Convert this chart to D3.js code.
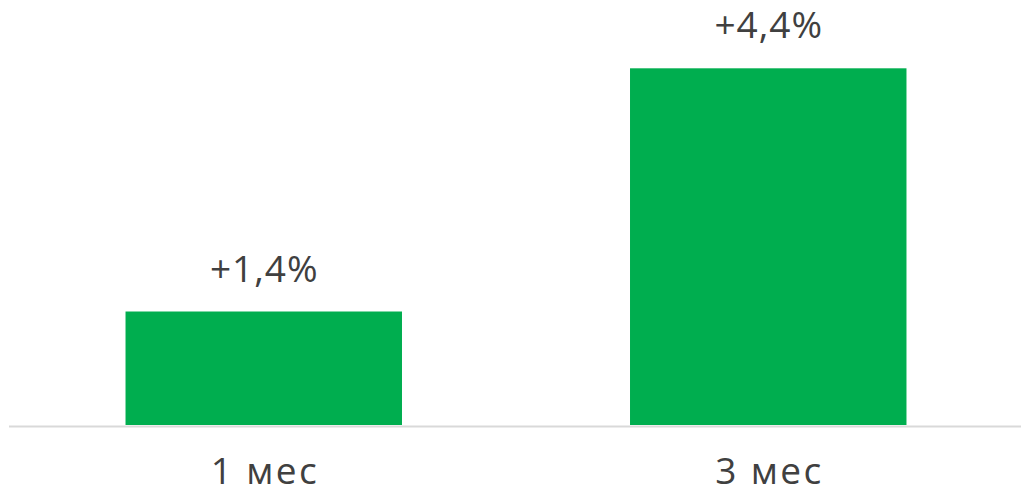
<!DOCTYPE html>
<html><head><meta charset="utf-8">
<script src="https://cdn.jsdelivr.net/npm/d3@7"></script>
<style>html,body{margin:0;padding:0;background:#fff;}svg{display:block;}</style>
</head><body>
<svg id="chart" width="1029" height="492"></svg>
<script>
const categories = ["1 мес", "3 мес"];
const values = [1.4, 4.4];
const valueLabels = ["+1,4%", "+4,4%"];

const svg = d3.select("#chart");
const baseY = 425;
const x = d3.scaleBand().domain(categories).range([11, 1021]).paddingInner(0.452).paddingOuter(0.227);
const y = d3.scaleLinear().domain([0, 4.4]).range([baseY, 68.3]);
const font = "'Open Sans', sans-serif";

svg.selectAll("rect.bar").data(values).enter().append("rect")
  .attr("class","bar")
  .attr("x",(d,i)=>x(categories[i]))
  .attr("width",x.bandwidth())
  .attr("y",d=>y(d))
  .attr("height",d=>baseY-y(d))
  .attr("fill","#00ae4f");

const axis = d3.axisBottom(x).tickSize(0).tickPadding(0);
const g = svg.append("g").attr("transform",`translate(0,${baseY+1.5})`).call(axis);
g.select(".domain").attr("d","M9,0H1021").attr("stroke","#d9d9d9").attr("stroke-width",2);
g.selectAll(".tick text").attr("dy",null).attr("y",57.5).attr("x",1.2)
  .attr("font-family",font).attr("font-size",37).attr("fill","#404040")
  .attr("letter-spacing","2.4px");

svg.selectAll("text.vl").data(values).enter().append("text")
  .attr("class","vl")
  .attr("x",(d,i)=>x(categories[i])+x.bandwidth()/2+0.5)
  .attr("y",d=>y(d)-30)
  .attr("text-anchor","middle")
  .attr("font-family",font).attr("font-size",37).attr("fill","#404040")
  .attr("letter-spacing","1px")
  .text((d,i)=>valueLabels[i]);
</script>
</body></html>
